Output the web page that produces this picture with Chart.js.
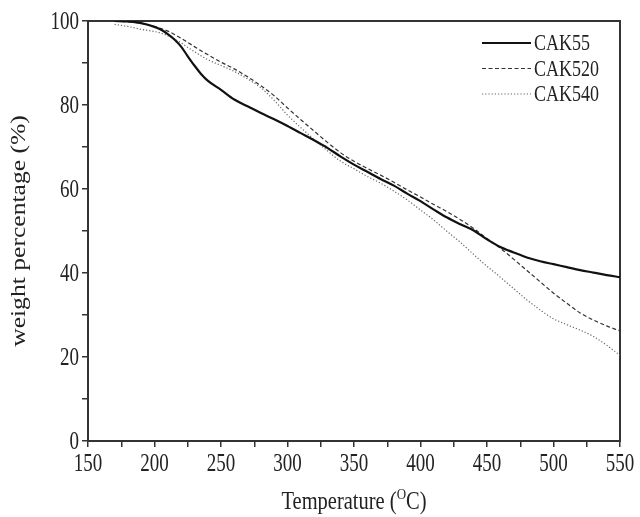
<!DOCTYPE html>
<html>
<head>
<meta charset="utf-8">
<script src="https://cdn.jsdelivr.net/npm/chart.js@4.4.1/dist/chart.umd.min.js"></script>
<style>
  html, body { margin: 0; padding: 0; background: #fff; }
  #wrap { width: 640px; height: 517px; }
</style>
</head>
<body>
<div id="wrap"><canvas id="tgaChart"></canvas></div>
<script>
const temps = [170, 180, 190, 200, 205, 210, 215, 220, 225, 230, 235, 240, 250, 260, 270, 280, 290, 300, 310, 320, 330, 340, 350, 360, 370, 380, 390, 400, 410, 420, 430, 440, 450, 460, 470, 480, 490, 500, 510, 520, 530, 540, 550];

const cak55 = [100, 99.9, 99.5, 98.6, 97.9, 96.9, 95.6, 93.9, 91.6, 89.4, 87.4, 85.8, 83.6, 81.3, 79.7, 78.1, 76.6, 75, 73.3, 71.6, 69.8, 67.7, 65.8, 64.1, 62.4, 60.8, 58.9, 57.1, 55.1, 53.2, 51.6, 50.1, 48, 46.2, 44.9, 43.7, 42.8, 42.1, 41.4, 40.7, 40.1, 39.5, 39];
const cak520 = [100, 99.8, 99.4, 98.7, 98.2, 97.6, 96.8, 95.9, 94.9, 93.9, 92.9, 92, 90.2, 88.6, 86.7, 84.6, 82.2, 79.3, 76.5, 73.8, 71.1, 68.6, 66.6, 64.9, 63.3, 61.6, 59.8, 58.1, 56.3, 54.6, 52.7, 50.6, 48.2, 45.9, 43.3, 40.6, 37.9, 35.2, 32.8, 30.5, 28.8, 27.4, 26.2];
const cak540 = [99.2, 98.7, 98, 97.5, 97.1, 96.5, 95.7, 94.8, 93.7, 92.7, 91.7, 90.8, 89.4, 88, 86.2, 84.1, 81.1, 77.6, 74.6, 71.8, 69.1, 66.6, 64.8, 63, 61.4, 59.5, 57.4, 55, 52.6, 49.9, 47.3, 44.4, 41.6, 39, 36.3, 33.6, 31.2, 29.1, 27.7, 26.4, 24.9, 22.8, 20.4];

const seriesNames = ["CAK55", "CAK520", "CAK540"];
const xTitle = "Temperature (";
const yTitle = "weight percentage (%)";

const toPoints = (vals) => vals.map((v, i) => ({ x: temps[i], y: v }));

const serif = "'Liberation Serif', 'Times New Roman', serif";
Chart.defaults.font.family = serif;
Chart.defaults.font.size = 19;

// the scanned figure has its text a bit taller than wide
const STRETCH = 1.35;

function tallText(ctx, text, x, y, sy) {
  ctx.save();
  ctx.translate(x, y);
  ctx.scale(1, sy);
  ctx.fillText(text, 0, 0);
  ctx.restore();
}

// box around the plot
const frame = {
  id: "frame",
  beforeDatasetsDraw(chart) {
    const { ctx, chartArea: a } = chart;
    ctx.save();
    ctx.strokeStyle = "#333";
    ctx.lineWidth = 2;
    ctx.strokeRect(a.left, a.top, a.right - a.left, a.bottom - a.top);
    ctx.restore();
  },
};

// tick labels, legend and axis titles
const extras = {
  id: "extras",
  afterDraw(chart) {
    const { ctx, chartArea: a } = chart;
    const xs = chart.scales.x;
    const ys = chart.scales.y;
    ctx.save();
    ctx.fillStyle = "#222";
    ctx.textBaseline = "middle";
    ctx.font = "19px " + serif;

    ctx.textAlign = "center";
    xs.ticks.forEach((t) => {
      if (t.value % 50 === 0) tallText(ctx, String(t.value), xs.getPixelForValue(t.value), 464, STRETCH);
    });
    ctx.textAlign = "right";
    ys.ticks.forEach((t) => {
      if (t.value % 20 === 0) tallText(ctx, String(t.value), 79, ys.getPixelForValue(t.value) + 1, STRETCH);
    });

    // legend
    ctx.font = "18px " + serif;
    chart.data.datasets.forEach((ds, i) => {
      const y = 43 + i * 25.5;
      ctx.beginPath();
      ctx.strokeStyle = ds.borderColor;
      ctx.lineWidth = ds.borderWidth;
      ctx.setLineDash(ds.borderDash || []);
      ctx.moveTo(482, y);
      ctx.lineTo(531, y);
      ctx.stroke();
      ctx.setLineDash([]);
      ctx.textAlign = "left";
      tallText(ctx, ds.label, 534, y + 1, 1.3);
    });

    // x title, superscript O
    const cx = (a.left + a.right) / 2;
    const y = 503;
    ctx.font = "20.5px " + serif;
    const w1 = ctx.measureText(xTitle).width;
    const w3 = ctx.measureText("C)").width;
    ctx.font = "13px " + serif;
    const w2 = ctx.measureText("O").width;
    let x = cx - (w1 + w2 + w3) / 2;
    ctx.textAlign = "left";
    ctx.font = "20.5px " + serif;
    tallText(ctx, xTitle, x, y, 1.2);
    x += w1;
    ctx.font = "13px " + serif;
    tallText(ctx, "O", x, y - 8, 1.2);
    x += w2;
    ctx.font = "20.5px " + serif;
    tallText(ctx, "C)", x, y, 1.2);

    // y title, rotated and stretched along its length
    ctx.font = "20px " + serif;
    ctx.translate(20, (a.top + a.bottom) / 2);
    ctx.rotate(-Math.PI / 2);
    ctx.scale(1.28, 1);
    ctx.textAlign = "center";
    ctx.fillText(yTitle, 0, 0);
    ctx.restore();
  },
};

new Chart(document.getElementById("tgaChart"), {
  type: "line",
  data: {
    datasets: [
      {
        label: seriesNames[0],
        data: toPoints(cak55),
        borderColor: "#111",
        borderWidth: 2.2,
      },
      {
        label: seriesNames[1],
        data: toPoints(cak520),
        borderColor: "#333",
        borderWidth: 1.2,
        borderDash: [4, 2.5],
      },
      {
        label: seriesNames[2],
        data: toPoints(cak540),
        borderColor: "#666",
        borderWidth: 1.2,
        borderDash: [1.2, 2],
      },
    ],
  },
  options: {
    responsive: true,
    maintainAspectRatio: false,
    animation: false,
    layout: { padding: { top: 21, right: 20, left: 0, bottom: 0 } },
    elements: {
      point: { radius: 0 },
      line: { cubicInterpolationMode: "monotone", fill: false },
    },
    plugins: {
      legend: { display: false },
      tooltip: { enabled: false },
    },
    scales: {
      x: {
        type: "linear",
        min: 150,
        max: 550,
        afterFit: (s) => { s.height = 76; },
        border: { color: "#333", width: 2 },
        grid: { drawOnChartArea: false, tickLength: 6, color: "#333", lineWidth: 1.5 },
        ticks: {
          stepSize: 25,
          autoSkip: false,
          maxRotation: 0,
          color: "rgba(0,0,0,0)", // labels redrawn by the extras plugin
          callback: (v) => (v % 50 === 0 ? v : ""),
        },
      },
      y: {
        min: 0,
        max: 100,
        afterFit: (s) => { s.width = 88; },
        border: { color: "#333", width: 2 },
        grid: { drawOnChartArea: false, tickLength: 6, color: "#333", lineWidth: 1.5 },
        ticks: {
          stepSize: 10,
          autoSkip: false,
          color: "rgba(0,0,0,0)",
          callback: (v) => (v % 20 === 0 ? v : ""),
        },
      },
    },
  },
  plugins: [frame, extras],
});
</script>
</body>
</html>
